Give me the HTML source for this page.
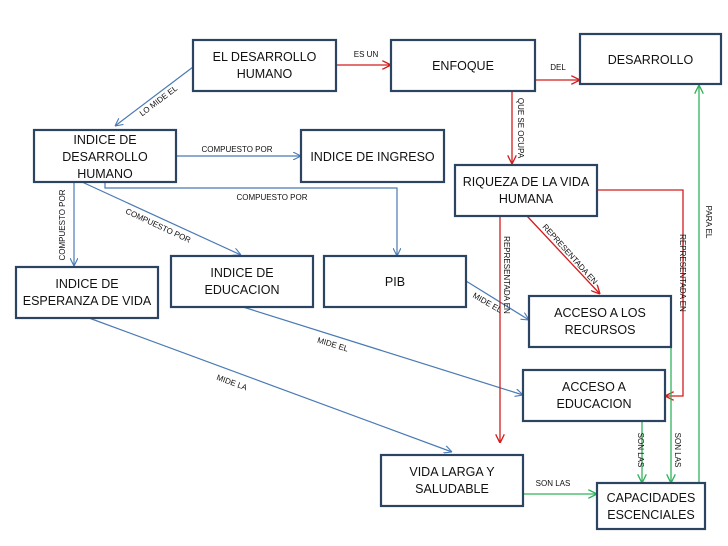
<!DOCTYPE html>
<html><head><meta charset="utf-8"><style>
html,body{margin:0;padding:0;background:#fff;}
svg{display:block;font-family:"Liberation Sans",sans-serif;}
.b{fill:#fff;stroke:#2b4462;stroke-width:2.2;}
.t{font-size:12.5px;fill:#111;text-anchor:middle;}
.l{font-size:8px;fill:#111;text-anchor:middle;}
.bl{stroke:#4a7ab5;stroke-width:1.2;fill:none;}
.rd{stroke:#d41c1c;stroke-width:1.3;fill:none;}
.gr{stroke:#2fb35a;stroke-width:1.3;fill:none;}
</style></head><body>
<svg width="728" height="546" viewBox="0 0 728 546">
<defs>
<marker id="mb" viewBox="0 0 10 10" refX="10" refY="5" markerWidth="8" markerHeight="8" orient="auto" markerUnits="userSpaceOnUse"><path d="M0,0 L10,5 L0,10" fill="none" stroke="#4a7ab5" stroke-width="1.4"/></marker>
<marker id="mr" viewBox="0 0 10 10" refX="10" refY="5" markerWidth="9" markerHeight="9" orient="auto" markerUnits="userSpaceOnUse"><path d="M0,0 L10,5 L0,10" fill="none" stroke="#d41c1c" stroke-width="1.5"/></marker>
<marker id="mg" viewBox="0 0 10 10" refX="10" refY="5" markerWidth="9" markerHeight="9" orient="auto" markerUnits="userSpaceOnUse"><path d="M0,0 L10,5 L0,10" fill="none" stroke="#2fb35a" stroke-width="1.5"/></marker>
</defs>

<!-- connectors -->
<line class="rd" x1="336" y1="65" x2="391" y2="65" marker-end="url(#mr)"/>
<line class="rd" x1="535" y1="80" x2="580" y2="80" marker-end="url(#mr)"/>
<line class="rd" x1="512" y1="91" x2="512" y2="164" marker-end="url(#mr)"/>
<line class="bl" x1="193" y1="67" x2="115" y2="126" marker-end="url(#mb)"/>
<line class="bl" x1="176" y1="156" x2="301" y2="156" marker-end="url(#mb)"/>
<polyline class="bl" points="105,182 105,188 397,188 397,256" marker-end="url(#mb)"/>
<line class="bl" x1="74" y1="182" x2="74" y2="266" marker-end="url(#mb)"/>
<line class="bl" x1="82" y1="182" x2="241" y2="255" marker-end="url(#mb)"/>
<line class="bl" x1="466" y1="281" x2="529" y2="320" marker-end="url(#mb)"/>
<line class="bl" x1="243" y1="307" x2="523" y2="395" marker-end="url(#mb)"/>
<line class="bl" x1="89" y1="318" x2="452" y2="452" marker-end="url(#mb)"/>
<line class="rd" x1="500" y1="216" x2="500" y2="443" marker-end="url(#mr)"/>
<line class="rd" x1="527" y1="216" x2="600" y2="294" marker-end="url(#mr)"/>
<polyline class="rd" points="597,190 683,190 683,396 665,396" marker-end="url(#mr)"/>
<line class="gr" x1="671" y1="347" x2="671" y2="483" marker-end="url(#mg)"/>
<line class="gr" x1="642" y1="421" x2="642" y2="483" marker-end="url(#mg)"/>
<line class="gr" x1="523" y1="494" x2="597" y2="494" marker-end="url(#mg)"/>
<line class="gr" x1="699" y1="483" x2="699" y2="85" marker-end="url(#mg)"/>

<!-- connector labels -->
<text class="l" x="366" y="57">ES UN</text>
<text class="l" x="558" y="70">DEL</text>
<text class="l" transform="translate(518,128) rotate(90)">QUE SE OCUPA</text>
<text class="l" transform="translate(160,103) rotate(-37)">LO MIDE EL</text>
<text class="l" x="237" y="152">COMPUESTO POR</text>
<text class="l" x="272" y="200">COMPUESTO POR</text>
<text class="l" transform="translate(65,225) rotate(-90)">COMPUESTO POR</text>
<text class="l" transform="translate(157,228) rotate(25)">COMPUESTO POR</text>
<text class="l" transform="translate(486,305) rotate(30)">MIDE EL</text>
<text class="l" transform="translate(332,347) rotate(17)">MIDE EL</text>
<text class="l" transform="translate(231,385) rotate(20)">MIDE  LA</text>
<text class="l" transform="translate(504,275) rotate(90)">REPRESENTADA EN</text>
<text class="l" transform="translate(568,256) rotate(48)">REPRESENTADA EN</text>
<text class="l" transform="translate(680,273) rotate(90)">REPRESENTADA EN</text>
<text class="l" transform="translate(675,450) rotate(90)">SON LAS</text>
<text class="l" transform="translate(638,450) rotate(90)">SON LAS</text>
<text class="l" x="553" y="486">SON LAS</text>
<text class="l" transform="translate(706,222) rotate(90)">PARA EL</text>

<!-- boxes -->
<rect class="b" x="193" y="40" width="143" height="51"/>
<text class="t" x="264.5" y="61">EL DESARROLLO</text><text class="t" x="264.5" y="78">HUMANO</text>
<rect class="b" x="391" y="40" width="144" height="51"/>
<text class="t" x="463" y="70">ENFOQUE</text>
<rect class="b" x="580" y="34" width="141" height="50"/>
<text class="t" x="650.5" y="64">DESARROLLO</text>
<rect class="b" x="34" y="130" width="142" height="52"/>
<text class="t" x="105" y="144">INDICE DE</text><text class="t" x="105" y="161">DESARROLLO</text><text class="t" x="105" y="178">HUMANO</text>
<rect class="b" x="301" y="130" width="143" height="52"/>
<text class="t" x="372.5" y="161">INDICE DE INGRESO</text>
<rect class="b" x="455" y="165" width="142" height="51"/>
<text class="t" x="526" y="186">RIQUEZA DE LA VIDA</text><text class="t" x="526" y="203">HUMANA</text>
<rect class="b" x="16" y="267" width="142" height="51"/>
<text class="t" x="87" y="288">INDICE DE</text><text class="t" x="87" y="305">ESPERANZA DE VIDA</text>
<rect class="b" x="171" y="256" width="142" height="51"/>
<text class="t" x="242" y="277">INDICE DE</text><text class="t" x="242" y="294">EDUCACION</text>
<rect class="b" x="324" y="256" width="142" height="51"/>
<text class="t" x="395" y="286">PIB</text>
<rect class="b" x="529" y="296" width="142" height="51"/>
<text class="t" x="600" y="317">ACCESO A LOS</text><text class="t" x="600" y="334">RECURSOS</text>
<rect class="b" x="523" y="370" width="142" height="51"/>
<text class="t" x="594" y="391">ACCESO A</text><text class="t" x="594" y="408">EDUCACION</text>
<rect class="b" x="381" y="455" width="142" height="51"/>
<text class="t" x="452" y="476">VIDA LARGA Y</text><text class="t" x="452" y="493">SALUDABLE</text>
<rect class="b" x="597" y="483" width="108" height="46"/>
<text class="t" x="651" y="502">CAPACIDADES</text><text class="t" x="651" y="519">ESCENCIALES</text>
</svg>
</body></html>
